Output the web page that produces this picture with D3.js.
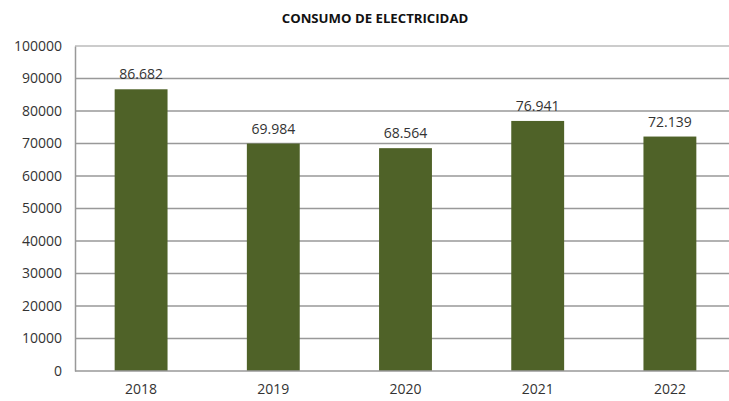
<!DOCTYPE html>
<html>
<head>
<meta charset="utf-8">
<script src="https://cdn.jsdelivr.net/npm/d3@7"></script>
<style>
  body { margin: 0; background: #fff; }
  svg { display: block; }
</style>
</head>
<body>
<svg id="chart" width="729" height="401"></svg>
<script>
// data
const years  = ["2018", "2019", "2020", "2021", "2022"];
const values = [86682, 69984, 68564, 76941, 72139];
const labels = ["86.682", "69.984", "68.564", "76.941", "72.139"];
const yTicks = [0, 10000, 20000, 30000, 40000, 50000, 60000, 70000, 80000, 90000, 100000];

const svg = d3.select("#chart"),
      W   = 729,
      m   = {top: 46, left: 75, bottom: 30};

const x = d3.scaleBand()
    .domain(years)
    .range([m.left, 736])
    .paddingInner(0.6)
    .paddingOuter(0.3);

const y = d3.scaleLinear()
    .domain([0, 100000])
    .range([371, m.top]);

const font = "Open Sans, sans-serif";

// title
svg.append("text")
  .attr("x", 375).attr("y", 23)
  .attr("text-anchor", "middle")
  .attr("font-family", font)
  .attr("font-weight", "bold")
  .attr("font-size", 13.2)
  .attr("fill", "#111")
  .text("CONSUMO DE ELECTRICIDAD");

// gridlines
svg.append("g").selectAll("line")
  .data(yTicks.slice(1)).enter().append("line")
    .attr("x1", m.left).attr("x2", W)
    .attr("y1", d => y(d)).attr("y2", d => y(d))
    .attr("stroke", d => d === 100000 ? "#bbb" : "#999")
    .attr("stroke-width", 1.5);

// y axis
const yAxis = svg.append("g")
  .attr("transform", `translate(${m.left},0)`)
  .call(d3.axisLeft(y).tickValues(yTicks).tickFormat(d => d).tickSize(0).tickPadding(13));
yAxis.select(".domain").attr("stroke", "#999").attr("stroke-width", 1.5);
yAxis.selectAll("text")
  .attr("font-family", font)
  .attr("font-size", 14)
  .attr("fill", "#333");

// bars
svg.append("g").selectAll("rect")
  .data(values).enter().append("rect")
    .attr("x", (d, i) => x(years[i]))
    .attr("y", d => y(d))
    .attr("width", x.bandwidth())
    .attr("height", d => y(0) - y(d))
    .attr("fill", "#4f6228");

// value labels
svg.append("g").selectAll("text")
  .data(values).enter().append("text")
    .attr("x", (d, i) => x(years[i]) + x.bandwidth() / 2)
    .attr("y", d => y(d) - 10)
    .attr("text-anchor", "middle")
    .attr("font-family", font)
    .attr("font-size", 14)
    .attr("fill", "#333")
    .text((d, i) => labels[i]);

// x axis
const xAxis = svg.append("g")
  .attr("transform", `translate(0,${y(0)})`)
  .call(d3.axisBottom(x).tickSize(0).tickPadding(13));
xAxis.select(".domain").remove();
svg.append("line")
  .attr("x1", m.left).attr("x2", W)
  .attr("y1", y(0)).attr("y2", y(0))
  .attr("stroke", "#999").attr("stroke-width", 1.5);
xAxis.selectAll("text")
  .attr("font-family", font)
  .attr("font-size", 14)
  .attr("fill", "#333");
</script>
</body>
</html>
